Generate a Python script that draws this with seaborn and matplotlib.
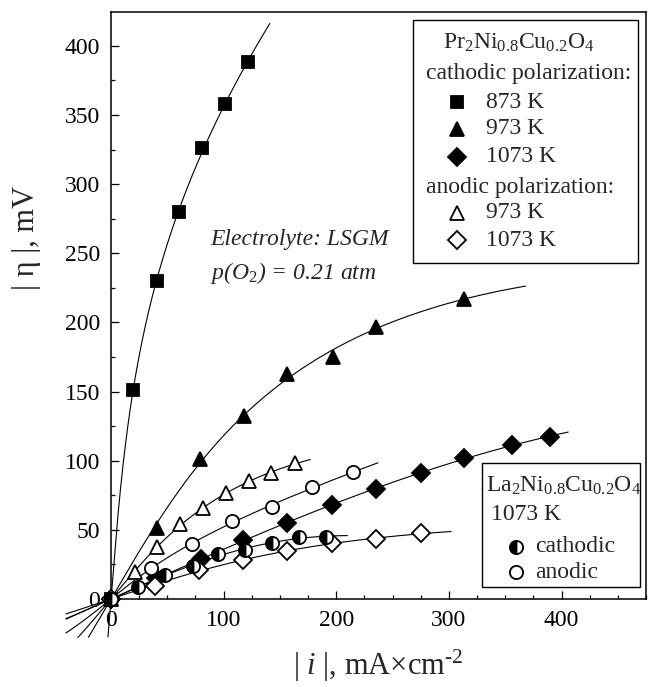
import numpy as np
import pandas as pd
import matplotlib
matplotlib.use("Agg")
import matplotlib.pyplot as plt
import seaborn as sns
from matplotlib.patches import Rectangle

# ---------------- data ----------------
# Pr2Ni0.8Cu0.2O4, cathodic polarization
x_873c = [0, 19.5, 40.5, 60.7, 80.8, 101.0, 121.5]
y_873c = [0, 151, 230, 280, 326, 358, 388]
x_973c = [0, 40.5, 79, 118, 156, 197, 235, 313]
y_973c = [0, 51, 101, 132, 163, 175, 197, 217]
x_1073c = [0, 40, 79.6, 117.5, 156.6, 196, 235.3, 275, 313, 356, 390]
y_1073c = [0, 15, 28.7, 42.7, 55.2, 68.2, 79.5, 90.9, 101.7, 111.4, 117.5]
# Pr2Ni0.8Cu0.2O4, anodic polarization
x_973a = [0, 21.3, 40.6, 61.3, 82, 101.8, 122.6, 141.8, 163.4]
y_973a = [0, 19.7, 37.4, 54, 65.6, 76.4, 85.5, 90.9, 98.1]
x_1073a = [0, 39, 78.4, 117.5, 156.6, 196.5, 235.3, 275]
y_1073a = [0, 9.4, 21, 28.2, 35, 40.3, 43.4, 47.5]
# La2Ni0.8Cu0.2O4, 1073 K
x_La_c = [0, 24.3, 48, 72.5, 95.3, 119, 142.7, 167, 191]
y_La_c = [0, 8.9, 17.4, 23.9, 32.3, 35.4, 40.3, 45, 45]
x_La_a = [0, 35.5, 71.9, 107.7, 143.3, 178.8, 215.2]
y_La_a = [0, 22.2, 39.8, 56.4, 66.7, 81.2, 91.6]

xticks = [0, 100, 200, 300, 400]
yticks = [0, 50, 100, 150, 200, 250, 300, 350, 400]

# ---------------- style ----------------
sns.set_theme(style="ticks")
plt.rcParams["font.family"] = ["Liberation Serif", "DejaVu Serif"]
plt.rcParams["mathtext.fontset"] = "custom"
plt.rcParams["mathtext.rm"] = "Liberation Serif"
plt.rcParams["mathtext.it"] = "Liberation Serif:italic"
plt.rcParams["mathtext.bf"] = "Liberation Serif:bold"

FS = 17
fig = plt.figure(figsize=(6.49, 6.87), dpi=100)
ax = fig.add_axes([111 / 649, 88 / 687, 535 / 649, 587 / 687])

series = [
    (x_873c, y_873c, "s", "black", (-6, 141), 8.5),
    (x_973c, y_973c, "^", "black", (-25, 368), 10.5),
    (x_1073c, y_1073c, "D", "black", (-40, 406), 9),
    (x_973a, y_973a, "^", "white", (-30, 177), 10.5),
    (x_1073a, y_1073a, "D", "white", (-40, 302), 9),
    (x_La_a, y_La_a, "o", "white", (-40, 237), 9.5),
]


def fit_asinh(xs, ys):
    """least squares fit of  y = a*asinh(x/b) + c*x  (Butler-Volmer like)"""
    xs = np.asarray(xs, float)
    ys = np.asarray(ys, float)
    best = None
    for b in np.geomspace(0.5, 5000, 600):
        A = np.column_stack([np.arcsinh(xs / b), xs])
        coef, *_ = np.linalg.lstsq(A, ys, rcond=None)
        r = np.sum((A @ coef - ys) ** 2)
        if best is None or r < best[0]:
            best = (r, b, coef)
    _, b, (a, c) = best
    return lambda x: a * np.arcsinh(x / b) + c * x


def draw_fit(xs, ys, rng):
    f = fit_asinh(xs, ys)
    xx = np.linspace(rng[0], rng[1], 400)
    yy = f(xx)
    m = (yy > -28) & (yy < 424.5)
    d = pd.DataFrame({"x": xx[m], "y": yy[m]})
    sns.lineplot(data=d, x="x", y="y", ax=ax, color="black", lw=0.8,
                 clip_on=False, zorder=2, sort=False)


for xs, ys, mk, fc, rng, ms in series:
    draw_fit(xs, ys, rng)
draw_fit(x_La_c, y_La_c, (-40, 210))

for xs, ys, mk, fc, rng, ms in series:
    ax.plot(xs, ys, ls="none", marker=mk, ms=ms, mfc=fc, mec="black",
            mew=1.3, clip_on=False, zorder=4)
ax.plot(x_La_c, y_La_c, ls="none", marker="o", ms=9.5, fillstyle="left",
        mfc="black", mfcalt="white", mec="black", mew=1.3, clip_on=False, zorder=4)

# axes
ax.set_xlim(0, 475)
ax.set_ylim(0, 424.5)
ax.set_xticks(xticks)
ax.set_yticks(yticks)
ax.set_xticks(np.arange(0, 476, 25), minor=True)
ax.set_yticks(np.arange(0, 425, 25), minor=True)
ax.tick_params(which="both", direction="in", top=False, right=False,
               labelsize=FS, width=0.9, color="black", labelcolor="black")
ax.tick_params(which="major", length=6, pad=8)
ax.tick_params(which="minor", length=3)
for s in ax.spines.values():
    s.set_linewidth(1.1)
    s.set_color("black")
ax.set_xlabel(r"| $\mathit{i}$ |, mA×cm$^{\text{-2}}$", fontsize=22, labelpad=12)
ax.set_ylabel("| η |, mV", fontsize=22)
ax.yaxis.set_label_coords((41 - 111) / 535, (599 - 238) / 587)

# annotation
ax.text((210 - 111) / 535, (599 - 240) / 587, "Electrolyte: LSGM", transform=ax.transAxes,
        fontsize=FS, fontstyle="italic", va="center", ha="left")
ax.text((210 - 111) / 535, (599 - 273) / 587, r"p(O$_\mathit{2}$) = 0.21 atm", transform=ax.transAxes,
        fontsize=FS, fontstyle="italic", va="center", ha="left")


# ---------------- legend box 1 ----------------
def ax_x(px):
    return (px - 111) / 535


def ax_y(py):
    return (599 - py) / 587


ax.add_patch(Rectangle((ax_x(413), ax_y(263)), ax_x(638) - ax_x(413), ax_y(20) - ax_y(263),
                       transform=ax.transAxes, fill=True, facecolor="white",
                       edgecolor="black", lw=1.0, zorder=5))
ax.text(ax_x(443), ax_y(43), r"Pr$_2$Ni$_{0.8}$Cu$_{0.2}$O$_4$", transform=ax.transAxes,
        fontsize=FS, va="center", ha="left", zorder=6)
ax.text(ax_x(426), ax_y(73), "cathodic polarization:", transform=ax.transAxes,
        fontsize=FS, va="center", ha="left", zorder=6)
ax.text(ax_x(426), ax_y(187), "anodic polarization:", transform=ax.transAxes,
        fontsize=FS, va="center", ha="left", zorder=6)
leg_rows = [(102, "s", "black", "873 K", 8.5), (129, "^", "black", "973 K", 10.5),
            (157, "D", "black", "1073 K", 9), (213, "^", "white", "973 K", 10.5),
            (240, "D", "white", "1073 K", 9)]
for py, mk, fc, lab, ms in leg_rows:
    ax.plot([ax_x(457)], [ax_y(py)], transform=ax.transAxes, marker=mk, ms=ms,
            mfc=fc, mec="black", mew=1.3, ls="none", zorder=6, clip_on=False)
    ax.text(ax_x(486), ax_y(py), lab, transform=ax.transAxes, fontsize=FS,
            va="center", ha="left", zorder=6)

# ---------------- legend box 2 ----------------
ax.add_patch(Rectangle((ax_x(482), ax_y(587)), ax_x(640) - ax_x(482), ax_y(463) - ax_y(587),
                       transform=ax.transAxes, fill=True, facecolor="white",
                       edgecolor="black", lw=1.0, zorder=5))
ax.text(ax_x(486), ax_y(486), r"La$_2$Ni$_{0.8}$Cu$_{0.2}$O$_4$", transform=ax.transAxes,
        fontsize=FS, va="center", ha="left", zorder=6)
ax.text(ax_x(491), ax_y(515), "1073 K", transform=ax.transAxes,
        fontsize=FS, va="center", ha="left", zorder=6)
ax.plot([ax_x(516)], [ax_y(547)], transform=ax.transAxes, marker="o", ms=9.5,
        fillstyle="left", mfc="black", mfcalt="white", mec="black", mew=1.3,
        ls="none", zorder=6)
ax.text(ax_x(535), ax_y(547), "cathodic", transform=ax.transAxes,
        fontsize=FS, va="center", ha="left", zorder=6)
ax.plot([ax_x(516)], [ax_y(572)], transform=ax.transAxes, marker="o", ms=9.5,
        mfc="white", mec="black", mew=1.3, ls="none", zorder=6)
ax.text(ax_x(535), ax_y(572), "anodic", transform=ax.transAxes,
        fontsize=FS, va="center", ha="left", zorder=6)

fig.savefig("out.png", dpi=100, facecolor="white")
